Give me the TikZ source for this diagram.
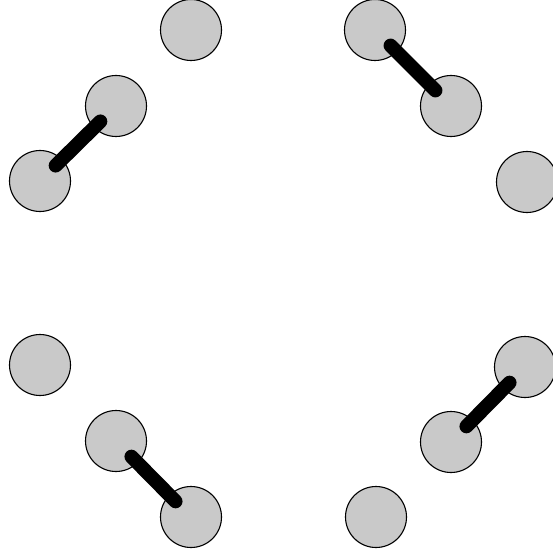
\documentclass[tikz,border=0pt]{standalone}
\begin{document}
\begin{tikzpicture}[x=1pt, y=-1pt,
  atom/.style={circle, draw=black, line width=1.1pt, fill=black!21, minimum size=61pt, inner sep=0pt},
  bond/.style={line width=14pt, line cap=round, shorten <=22pt, shorten >=22pt}]
 \useasboundingbox (0,0) rectangle (552,556);
 \node[atom] (a1) at (191,30) {};
 \node[atom] (a2) at (116,106) {};
 \node[atom] (a3) at (40,181) {};
 \node[atom] (a4) at (375,30) {};
 \node[atom] (a5) at (451,106) {};
 \node[atom] (a6) at (527,182) {};
 \node[atom] (a7) at (40,365) {};
 \node[atom] (a8) at (116,441) {};
 \node[atom] (a9) at (191,517) {};
 \node[atom] (a10) at (376,517) {};
 \node[atom] (a11) at (451,442) {};
 \node[atom] (a12) at (525,367) {};
 \draw[bond] (a3.center) -- (a2.center);
 \draw[bond] (a4.center) -- (a5.center);
 \draw[bond] (a8.center) -- (a9.center);
 \draw[bond] (a11.center) -- (a12.center);
\end{tikzpicture}
\end{document}
